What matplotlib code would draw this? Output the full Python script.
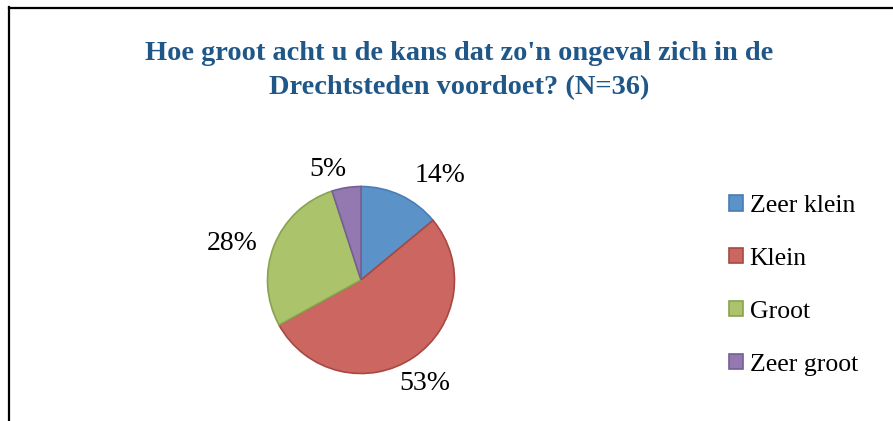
import numpy as np
import matplotlib
matplotlib.use("Agg")
import matplotlib.pyplot as plt
from matplotlib.lines import Line2D

# data
categories = ["Zeer klein", "Klein", "Groot", "Zeer groot"]
percentages = [14, 53, 28, 5]
pct_labels = ["14%", "53%", "28%", "5%"]

face_colors = ["#5B93C9", "#CC6660", "#ABC46B", "#9379B0"]
edge_colors = ["#4A7CB5", "#A84843", "#8AA250", "#765E96"]

TITLE = "Hoe groot acht u de kans dat zo'n ongeval zich in de\nDrechtsteden voordoet? (N=36)"
FONT = ["Liberation Serif", "DejaVu Serif"]

W, H = 893, 421
fig = plt.figure(figsize=(W / 100, H / 100), dpi=100)

# frame: only the top and left edges are visible in the crop
fig.add_artist(Line2D([8.5 / W, 8.5 / W], [0, 1 - 7 / H], transform=fig.transFigure,
                      color="black", lw=1.6))
fig.add_artist(Line2D([8.5 / W, 1], [1 - 7.5 / H, 1 - 7.5 / H], transform=fig.transFigure,
                      color="black", lw=1.6))

fig.text(459 / W, 1 - 70.5 / H, TITLE, ha="center", va="center",
         fontsize=20.4, fontweight="bold", color="#1F5788", family=FONT,
         linespacing=1.45)

# pie centred at (361, 280) px with radius ~93.5 px
cx, cy, r, half = 361, 280, 93.5, 150
ax = fig.add_axes([(cx - half) / W, (H - cy - half) / H, 2 * half / W, 2 * half / H])
lim = half / r
wedges, _ = ax.pie(percentages, colors=face_colors, startangle=90, counterclock=False,
                   radius=1, wedgeprops=dict(linewidth=1.2))
for w, ec in zip(wedges, edge_colors):
    w.set_edgecolor(ec)
ax.set_xlim(-lim, lim)
ax.set_ylim(-lim, lim)
ax.set_aspect("equal")
ax.axis("off")

# label placement (distance in radii, angle nudge in degrees from wedge middle)
label_dist = [1.40, 1.30, 1.43, 1.23]
label_nudge = [-11.8, -2.3, 5.6, 7.7]
for w, lab, d, nud in zip(wedges, pct_labels, label_dist, label_nudge):
    theta = np.deg2rad((w.theta1 + w.theta2) / 2 + nud)
    ax.text(d * np.cos(theta), d * np.sin(theta), lab, ha="center", va="center",
            fontsize=20, family=FONT, color="black", clip_on=False)

leg = fig.legend(wedges, categories, loc="upper left",
                 bbox_to_anchor=(729 / W, 1 - 195 / H), frameon=False,
                 prop=dict(family=FONT, size=18.5), handlelength=0.55, handleheight=0.55,
                 handletextpad=0.25, labelspacing=1.2, borderpad=0, borderaxespad=0)

fig.savefig("out.png", dpi=100)
